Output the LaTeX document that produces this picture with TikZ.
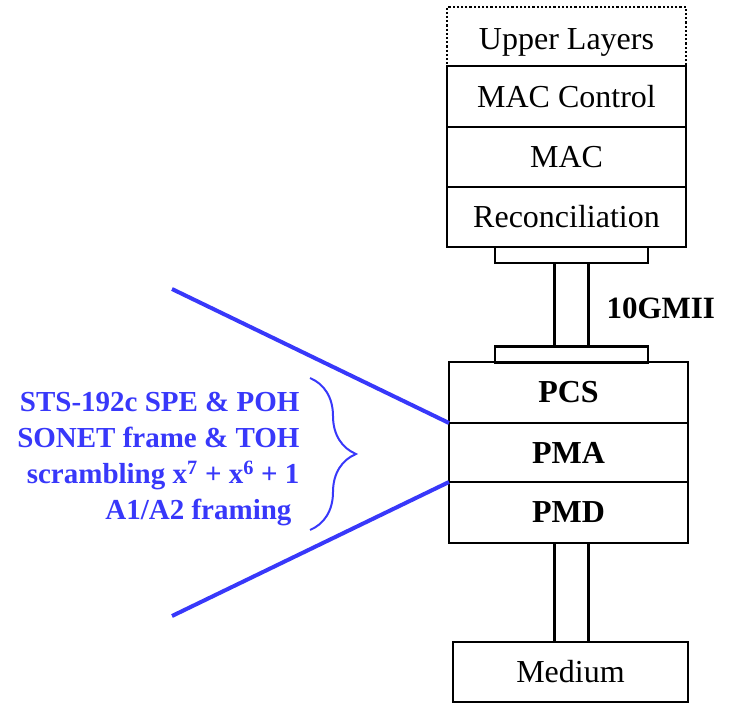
\documentclass[tikz,border=0pt]{standalone}
\usepackage{fontspec}
\setmainfont{Liberation Serif}
\usepackage{tikz}
\usetikzlibrary{positioning,decorations.pathreplacing}
\definecolor{SonetBlue}{RGB}{56,56,250}
\tikzset{
    layerbox/.style={draw, line width=2.2pt, inner sep=0pt, outer sep=0pt,
                     minimum width=239pt, minimum height=60pt,
                     font=\fontsize{32}{36}\selectfont},
    padbox/.style={draw, line width=2.2pt, inner sep=0pt, outer sep=0pt,
                   minimum width=153pt, minimum height=16pt},
    blueline/.style={SonetBlue, line width=4pt},
}

\begin{document}
\begin{tikzpicture}[x=1pt,y=-1pt]
                    \useasboundingbox (0,0) rectangle (736,703);
%                    upper stack
                    \node[layerbox, dotted, line width=1.8pt, minimum height=59pt] (upper) at (566.5,36.5) {};
                    \node[font=\fontsize{32}{36}\selectfont] (upperlbl) at ([yshift=-6pt]upper.center) {Upper Layers};
                    \node[layerbox, minimum height=61pt, below=0pt of upper] (macctl) {MAC Control};
                    \node[layerbox, below=0pt of macctl] (mac) {MAC};
                    \node[layerbox, below=0pt of mac] (recon) {Reconciliation};
%                    10GMII
                    \node[padbox] (padtop) at (571.5,255) {};
                    \node[padbox] (padbot) at (571.5,354.5) {};
                    \draw[line width=2.2pt] ([xshift=-17pt]padtop.south) rectangle ([xshift=17pt]padbot.north);
                    \node[font=\bfseries\fontsize{31}{36}\selectfont, anchor=west] (gmii) at (603,308) {10GMII};
%                    PHY stack
                    \node[layerbox, minimum height=61pt, font=\bfseries\fontsize{32}{36}\selectfont] (pcs) at (568.5,392.5) {PCS};
                    \node[layerbox, minimum height=59pt, font=\bfseries\fontsize{32}{36}\selectfont, below=0pt of pcs] (pma) {PMA};
                    \node[layerbox, minimum height=61pt, font=\bfseries\fontsize{32}{36}\selectfont, below=0pt of pma] (pmd) {PMD};
                    \node[layerbox, minimum width=235pt] (medium) at (570.5,672) {Medium};
                    \draw[line width=2.2pt] ([xshift=-17pt]padbot.south |- pmd.south) rectangle ([xshift=17pt]padbot.south |- medium.north);
%                    WIS zoom
                    \coordinate (fanup) at (172,289);
                    \coordinate (fandown) at (172,616);
                    \draw[blueline] (fanup) -- (pcs.south west);
                    \draw[blueline] (pma.south west) -- (fandown);
                    \node[SonetBlue, font=\bfseries\fontsize{29}{36}\selectfont, align=right, anchor=east] (wis) at (303,459)
                        {STS-192c SPE \& POH\\SONET frame \& TOH\\scrambling x\textsuperscript{7} + x\textsuperscript{6} + 1\\A1/A2 framing\kern8pt};
                    \coordinate (bracetop) at (310,378);
                    \coordinate (bracebot) at (310,530);
                    \draw[SonetBlue, line width=2pt, decorate, decoration={brace, amplitude=46pt}] (bracetop) -- (bracebot);

                \end{tikzpicture}
\end{document}
